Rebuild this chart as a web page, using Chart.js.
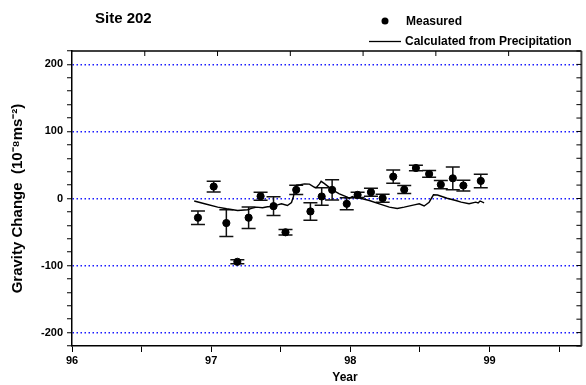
<!DOCTYPE html>
<html>
<head>
<meta charset="utf-8">
<script src="https://cdn.jsdelivr.net/npm/chart.js@4.4.1/dist/chart.umd.min.js"></script>
<style>
    html, body { margin: 0; padding: 0; background: #fff; }
</style>
</head>
<body>
<canvas id="grafico" width="586" height="385"></canvas>
<script>
// measured gravity change at site 202 (decimal year, value, +/- error)
const measuredYear = [96.905, 97.018, 97.109, 97.188, 97.269, 97.355, 97.448, 97.534, 97.611, 97.713, 97.794, 97.869,
    97.974, 98.052, 98.148, 98.232, 98.308, 98.387, 98.471, 98.566, 98.650, 98.736, 98.812, 98.937];
const measuredGravity = [-28.6, 17.8, -36.6, -94.4, -28.6, 3.4, -11.4, -50.4, 12.9, -19.3, 3.0, 12.9,
    -7.9, 5.4, 9.4, 0.5, 32.6, 13.3, 45.5, 36.6, 20.7, 30.1, 19.3, 26.2];
const measuredError = [10, 8, 20, 3, 16, 6, 14, 4, 7, 13, 13, 15, 9, 4, 6, 6, 10, 6, 4, 5, 6, 17, 8, 10];

// curve calculated from precipitation
const calcYear = [96.878, 96.953, 97.047, 97.111, 97.190, 97.262, 97.290, 97.326, 97.369, 97.405, 97.441, 97.477,
    97.505, 97.548, 97.577, 97.591, 97.602, 97.613, 97.642, 97.670, 97.706, 97.742, 97.756, 97.778, 97.790, 97.814,
    97.871, 97.921, 97.978, 97.993, 98.014, 98.036, 98.065, 98.136, 98.208, 98.280, 98.337, 98.387, 98.459, 98.495,
    98.530, 98.566, 98.597, 98.626, 98.695, 98.758, 98.796, 98.853, 98.901, 98.918, 98.932, 98.961];
const calcGravity = [-3.7, -7.9, -12.9, -15.3, -17.8, -16.7, -14.8, -12.9, -13.8, -12.3, -11.9, -9.6,
    -7.9, -10.4, -5.9, 3.0, 14.8, 20.0, 20.7, 21.8, 21.5, 16.7, 16.3, 21.8, 25.6, 22.2,
    12.9, 7.0, 1.9, 0.0, 3.0, 0.7, 0.7, -3.0, -7.9, -12.9, -14.8, -12.9, -9.6, -7.9,
    -11.1, -5.5, 5.5, 5.2, 0.4, -3.0, -5.5, -7.9, -5.5, -6.7, -3.7, -6.4];

const xLabelValues = [96, 97, 98, 99];
const yLabelValues = [-200, -100, 0, 100, 200];

const fonte = "'Liberation Sans', Arial, sans-serif";
Chart.defaults.font.family = fonte;
Chart.defaults.font.weight = "bold";
Chart.defaults.color = "#000";

const barrasDeErro = {
    id: "barrasDeErro",
    beforeDatasetsDraw(chart) {
        const { ctx, scales } = chart;
        ctx.save();
        ctx.strokeStyle = "#111";
        ctx.lineWidth = 1.5;
        measuredYear.forEach((ano, i) => {
            const px = scales.x.getPixelForValue(ano);
            const topo = scales.y.getPixelForValue(measuredGravity[i] + measuredError[i]);
            const base = scales.y.getPixelForValue(measuredGravity[i] - measuredError[i]);
            ctx.beginPath();
            ctx.moveTo(px, topo);
            ctx.lineTo(px, base);
            ctx.moveTo(px - 7, topo);
            ctx.lineTo(px + 7, topo);
            ctx.moveTo(px - 7, base);
            ctx.lineTo(px + 7, base);
            ctx.stroke();
        });
        ctx.restore();
    }
};

const moldura = {
    id: "moldura",
    afterDraw(chart) {
        const { ctx, chartArea: a, scales } = chart;
        ctx.save();

        // top and right frame
        ctx.strokeStyle = "#000";
        ctx.lineWidth = 1.5;
        ctx.beginPath();
        ctx.moveTo(a.left, a.top);
        ctx.lineTo(a.right, a.top);
        ctx.stroke();
        ctx.strokeStyle = "#444";
        ctx.lineWidth = 2;
        ctx.beginPath();
        ctx.moveTo(a.right, a.top);
        ctx.lineTo(a.right, a.bottom);
        ctx.stroke();

        // inward ticks
        ctx.strokeStyle = "#000";
        ctx.lineWidth = 1;
        ctx.beginPath();
        scales.y.ticks.forEach(t => {
            const py = scales.y.getPixelForValue(t.value);
            ctx.moveTo(a.right, py);
            ctx.lineTo(a.right - 5, py);
        });
        for (let i = 1; i < 7; i++) {
            const px = a.left + i * (a.right - a.left) / 7;
            ctx.moveTo(px, a.top);
            ctx.lineTo(px, a.top + 5);
        }
        ctx.stroke();

        // titles
        ctx.fillStyle = "#000";
        ctx.textBaseline = "middle";
        ctx.textAlign = "left";
        ctx.font = "bold 15px " + fonte;
        ctx.fillText("Site 202", 95, 19);
        ctx.textAlign = "center";
        ctx.font = "bold 12px " + fonte;
        ctx.fillText("Year", 345, 378);

        // legend
        ctx.textAlign = "left";
        ctx.beginPath();
        ctx.arc(385, 21, 3.5, 0, Math.PI * 2);
        ctx.fill();
        ctx.fillText("Measured", 406, 22);
        ctx.lineWidth = 1.3;
        ctx.beginPath();
        ctx.moveTo(369, 41.5);
        ctx.lineTo(401, 41.5);
        ctx.stroke();
        ctx.fillText("Calculated from Precipitation", 405, 42);

        ctx.restore();
    }
};

function criarGrafico(ctx) {
    return new Chart(ctx, {
        type: "scatter",
        data: {
            datasets: [
                {
                    label: "Measured",
                    data: measuredYear.map((ano, i) => ({ x: ano, y: measuredGravity[i] })),
                    backgroundColor: "#000",
                    borderColor: "#000",
                    pointRadius: 3.6,
                    pointHoverRadius: 3.6
                },
                {
                    label: "Calculated from Precipitation",
                    data: calcYear.map((ano, i) => ({ x: ano, y: calcGravity[i] })),
                    showLine: true,
                    borderColor: "#000",
                    borderWidth: 1.4,
                    pointRadius: 0,
                    tension: 0
                }
            ]
        },
        options: {
            responsive: false,
            devicePixelRatio: 1,
            animation: false,
            layout: { padding: { top: 51, right: 4, left: 0, bottom: 0 } },
            plugins: {
                legend: { display: false },
                tooltip: { enabled: false }
            },
            scales: {
                x: {
                    type: "linear",
                    min: 96,
                    max: 99.66,
                    afterFit: scale => { scale.height = 39; },
                    ticks: {
                        stepSize: 0.5,
                        includeBounds: false,
                        autoSkip: false,
                        maxRotation: 0,
                        padding: 2,
                        font: { size: 11, weight: "bold" },
                        callback: value => xLabelValues.includes(value) ? String(value) : ""
                    },
                    grid: {
                        drawOnChartArea: false,
                        tickLength: 6,
                        tickColor: "#000"
                    },
                    border: { color: "#000", width: 1.5 }
                },
                y: {
                    min: -220,
                    max: 220,
                    afterFit: scale => { scale.width = 72; },
                    ticks: {
                        stepSize: 20,
                        autoSkip: false,
                        padding: 4,
                        font: { size: 11, weight: "bold" },
                        callback: value => yLabelValues.includes(Math.round(value)) ? String(value) : ""
                    },
                    grid: {
                        color: c => c.tick && yLabelValues.includes(Math.round(c.tick.value)) ? "#1a1aff" : "rgba(0,0,0,0)",
                        lineWidth: 1.5,
                        tickLength: 5,
                        tickColor: "#000",
                        tickWidth: 1
                    },
                    border: { color: "#000", width: 1.5, dash: [1.5, 2.5] },
                    title: {
                        display: true,
                        text: "Gravity Change  (10⁻⁸ms⁻²)",
                        font: { size: 15, weight: "bold" },
                        padding: { top: 9, bottom: 0 }
                    }
                }
            }
        },
        plugins: [barrasDeErro, moldura]
    });
}

criarGrafico(document.querySelector("#grafico"));
</script>
</body>
</html>
